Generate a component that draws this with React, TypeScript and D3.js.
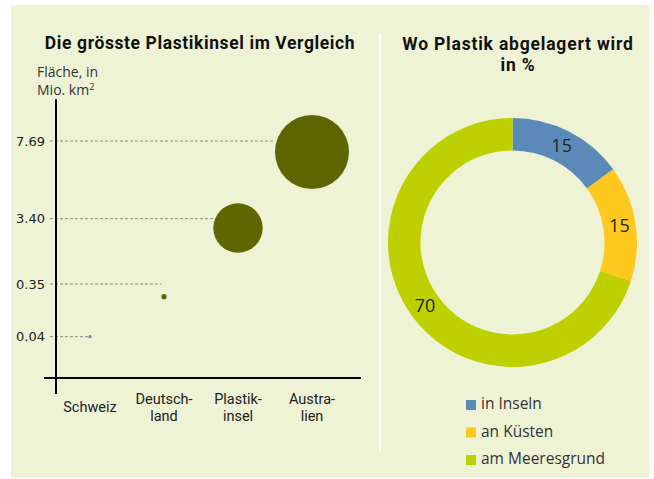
import React from "react";
import * as d3 from "d3";

const categories = ["Schweiz", "Deutschland", "Plastikinsel", "Australien"];
const categoryLabelLines = [["Schweiz"], ["Deutsch-", "land"], ["Plastik-", "insel"], ["Austra-", "lien"]];
const areas = [0.041, 0.357, 3.4, 7.69];
const tickValues = [0.04, 0.35, 3.4, 7.69];
const tickLabels = ["0.04", "0.35", "3.40", "7.69"];

const shareLabels = ["in Inseln", "an Küsten", "am Meeresgrund"];
const shareValues = [15, 15, 70];
const shareColors = ["#5b8ab8", "#ffc81e", "#bed000"];

const BG = "#eff3d6";
const OLIVE = "#5f6600";
const FONT = "'Open Sans', sans-serif";
const FONT2 = "Roboto, sans-serif";

export default function App() {
  // left chart scales
  const x = d3.scalePoint<string>().domain(categories).range([90, 312]);
  const y = d3.scaleLinear().domain(tickValues).range([336.7, 284, 218.7, 141]);
  const cy = d3.scaleLinear().domain(areas).range([336.7, 296.7, 228, 152]);
  const r = d3.scaleLinear().domain(areas).range([1.6, 2.6, 24.7, 37]);

  // donut
  const pie = d3.pie<number>().sort(null).value((d) => d);
  const arcs = pie(shareValues);
  const arc = d3.arc<d3.PieArcDatum<number>>().innerRadius(92).outerRadius(124.5);
  const cx = 512.5;
  const cyD = 242.5;

  return (
    <svg width={654} height={479} style={{ position: "absolute", left: 0, top: 0 }}>
      <rect x={0} y={0} width={654} height={479} fill="#ffffff" />
      <rect x={11} y={5} width={638} height={473} fill={BG} />
      <line x1={380} x2={380} y1={33} y2={452} stroke="#ffffff" strokeWidth={2} />

      {/* Left title */}
      <text x={200} y={49} textAnchor="middle" fontFamily={FONT2} fontWeight={700} fontSize={17.5} letterSpacing={0.6} fill="#111">
        Die grösste Plastikinsel im Vergleich
      </text>
      <text x={37} y={77} fontFamily={FONT} fontSize={14} fill="#333">Fläche, in</text>
      <text x={37} y={95} fontFamily={FONT} fontSize={14} fill="#333">
        Mio. km<tspan fontSize={9} dy={-5}>2</tspan>
      </text>

      {/* dashed guides */}
      {areas.map((a, i) => (
        <line
          key={"g" + i}
          x1={50}
          x2={(x(categories[i]) as number) - r(a)}
          y1={y(tickValues[i])}
          y2={y(tickValues[i])}
          stroke="#8a8a80"
          strokeWidth={1}
          strokeDasharray="3,2"
        />
      ))}

      {/* tick labels */}
      {tickValues.map((t, i) => (
        <text
          key={"t" + i}
          x={45}
          y={y(t)}
          dy="0.35em"
          textAnchor="end"
          fontFamily="'DejaVu Sans', sans-serif"
          fontSize={13}
          fill="#222"
        >
          {tickLabels[i]}
        </text>
      ))}

      {/* axes */}
      <line x1={56} x2={56} y1={99} y2={394} stroke="#000" strokeWidth={2} />
      <line x1={44} x2={361} y1={378} y2={378} stroke="#000" strokeWidth={2} />

      {/* circles */}
      {areas.map((a, i) => (
        <circle
          key={"c" + i}
          cx={x(categories[i]) as number}
          cy={cy(a)}
          r={r(a)}
          fill={i === 0 ? "#5b8ab8" : OLIVE}
        />
      ))}

      {/* category labels */}
      {categories.map((c, i) => {
        const lines = categoryLabelLines[i];
        const y0 = lines.length === 1 ? 412 : 404;
        return lines.map((ln, j) => (
          <text
            key={"l" + c + j}
            x={x(c) as number}
            y={y0 + j * 17}
            textAnchor="middle"
            fontFamily={FONT2}
            fontSize={14.5}
            fill="#222"
          >
            {ln}
          </text>
        ));
      })}

      {/* Right title */}
      <text x={518} y={50} textAnchor="middle" fontFamily={FONT2} fontWeight={700} fontSize={17.5} letterSpacing={0.8} fill="#111">
        Wo Plastik abgelagert wird
      </text>
      <text x={518} y={71} textAnchor="middle" fontFamily={FONT2} fontWeight={700} fontSize={17.5} letterSpacing={0.8} fill="#111">
        in %
      </text>

      {/* donut */}
      <g transform={`translate(${cx},${cyD})`}>
        {arcs.map((a, i) => (
          <path key={"a" + i} d={arc(a) || ""} fill={shareColors[i]} />
        ))}
        {arcs.map((a, i) => {
          const [px, py] = arc.centroid(a);
          return (
            <text
              key={"al" + i}
              x={px}
              y={py}
              dy="0.35em"
              textAnchor="middle"
              fontFamily={FONT}
              fontSize={18}
              fill="#222"
            >
              {shareValues[i]}
            </text>
          );
        })}
      </g>

      {/* legend */}
      {shareLabels.map((l, i) => (
        <g key={"lg" + i} transform={`translate(466,${404 + i * 27.5})`}>
          <rect x={0} y={-4} width={10} height={10} fill={shareColors[i]} />
          <text x={15} y={0} dy="0.35em" fontFamily={FONT} fontSize={15.5} fill="#333">
            {l}
          </text>
        </g>
      ))}
    </svg>
  );
}
